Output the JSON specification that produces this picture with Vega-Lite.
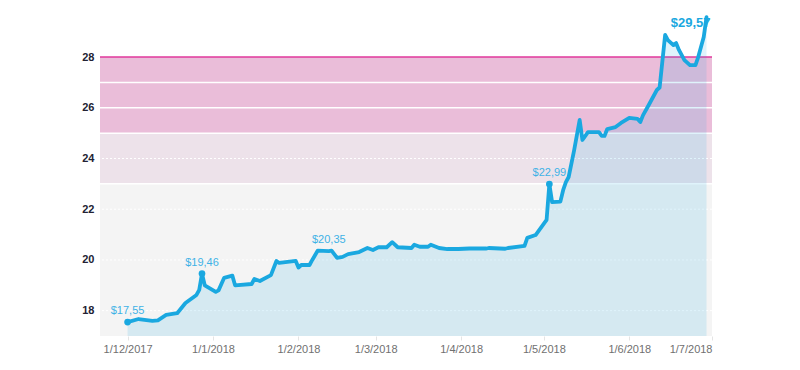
{
  "$schema": "https://vega.github.io/schema/vega-lite/v6.json",
  "width": 612,
  "height": 336,
  "autosize": {"type": "none"},
  "padding": {"left": 100, "top": 0, "right": 88, "bottom": 34},
  "background": "white",
  "config": {"view": {"stroke": null}, "font": "Liberation Sans"},
  "datasets": {
    "series": [
      {"date": "2017-12-01", "value": 17.55},
      {"date": "2017-12-05", "value": 17.67},
      {"date": "2017-12-10", "value": 17.6},
      {"date": "2017-12-12", "value": 17.62},
      {"date": "2017-12-15", "value": 17.83},
      {"date": "2017-12-19", "value": 17.9},
      {"date": "2017-12-22", "value": 18.3},
      {"date": "2017-12-26", "value": 18.62},
      {"date": "2017-12-27", "value": 18.82},
      {"date": "2017-12-28", "value": 19.46},
      {"date": "2017-12-29", "value": 19.0},
      {"date": "2018-01-02", "value": 18.74},
      {"date": "2018-01-03", "value": 18.8},
      {"date": "2018-01-05", "value": 19.29},
      {"date": "2018-01-08", "value": 19.38},
      {"date": "2018-01-09", "value": 19.0},
      {"date": "2018-01-15", "value": 19.05},
      {"date": "2018-01-16", "value": 19.25},
      {"date": "2018-01-18", "value": 19.17},
      {"date": "2018-01-22", "value": 19.4},
      {"date": "2018-01-24", "value": 19.96},
      {"date": "2018-01-25", "value": 19.88},
      {"date": "2018-01-31", "value": 19.96},
      {"date": "2018-02-01", "value": 19.7},
      {"date": "2018-02-02", "value": 19.8},
      {"date": "2018-02-05", "value": 19.8},
      {"date": "2018-02-06", "value": 20.0},
      {"date": "2018-02-08", "value": 20.37},
      {"date": "2018-02-12", "value": 20.35},
      {"date": "2018-02-13", "value": 20.37},
      {"date": "2018-02-15", "value": 20.08},
      {"date": "2018-02-17", "value": 20.12},
      {"date": "2018-02-19", "value": 20.23},
      {"date": "2018-02-23", "value": 20.31},
      {"date": "2018-02-26", "value": 20.47},
      {"date": "2018-02-28", "value": 20.39},
      {"date": "2018-03-02", "value": 20.5},
      {"date": "2018-03-05", "value": 20.5},
      {"date": "2018-03-07", "value": 20.7},
      {"date": "2018-03-09", "value": 20.5},
      {"date": "2018-03-14", "value": 20.47},
      {"date": "2018-03-15", "value": 20.6},
      {"date": "2018-03-17", "value": 20.52},
      {"date": "2018-03-20", "value": 20.52},
      {"date": "2018-03-21", "value": 20.6},
      {"date": "2018-03-24", "value": 20.47},
      {"date": "2018-03-27", "value": 20.43},
      {"date": "2018-03-31", "value": 20.43},
      {"date": "2018-04-04", "value": 20.45},
      {"date": "2018-04-10", "value": 20.45},
      {"date": "2018-04-11", "value": 20.47},
      {"date": "2018-04-17", "value": 20.44},
      {"date": "2018-04-18", "value": 20.47},
      {"date": "2018-04-24", "value": 20.55},
      {"date": "2018-04-25", "value": 20.87},
      {"date": "2018-04-28", "value": 20.98},
      {"date": "2018-05-02", "value": 21.58},
      {"date": "2018-05-03", "value": 22.99},
      {"date": "2018-05-04", "value": 22.28},
      {"date": "2018-05-07", "value": 22.3},
      {"date": "2018-05-08", "value": 22.75},
      {"date": "2018-05-09", "value": 23.07},
      {"date": "2018-05-10", "value": 23.27},
      {"date": "2018-05-12", "value": 24.33},
      {"date": "2018-05-14", "value": 25.52},
      {"date": "2018-05-15", "value": 24.73},
      {"date": "2018-05-17", "value": 25.04},
      {"date": "2018-05-21", "value": 25.04},
      {"date": "2018-05-22", "value": 24.89},
      {"date": "2018-05-23", "value": 24.89},
      {"date": "2018-05-24", "value": 25.16},
      {"date": "2018-05-27", "value": 25.24},
      {"date": "2018-05-29", "value": 25.4},
      {"date": "2018-06-01", "value": 25.6},
      {"date": "2018-06-04", "value": 25.56},
      {"date": "2018-06-05", "value": 25.44},
      {"date": "2018-06-06", "value": 25.71},
      {"date": "2018-06-08", "value": 26.1},
      {"date": "2018-06-11", "value": 26.7},
      {"date": "2018-06-12", "value": 26.8},
      {"date": "2018-06-14", "value": 28.87},
      {"date": "2018-06-15", "value": 28.67},
      {"date": "2018-06-17", "value": 28.47},
      {"date": "2018-06-18", "value": 28.55},
      {"date": "2018-06-19", "value": 28.28},
      {"date": "2018-06-21", "value": 27.88},
      {"date": "2018-06-23", "value": 27.68},
      {"date": "2018-06-25", "value": 27.68},
      {"date": "2018-06-26", "value": 28.0},
      {"date": "2018-06-28", "value": 28.79},
      {"date": "2018-06-29", "value": 29.57}
    ],
    "bands": [
      {"lo": 17, "hi": 23, "color": "#f4f4f4"},
      {"lo": 23, "hi": 25, "color": "#ede2ea"},
      {"lo": 25, "hi": 28, "color": "#eabdd9"}
    ],
    "solidGrid": [{"v": 23}, {"v": 25}, {"v": 26}, {"v": 27}],
    "dotGrid": [{"v": 18}, {"v": 20}, {"v": 22}, {"v": 24}],
    "labels": [
      {"date": "2017-12-01", "value": 17.55, "text": "$17,55", "dot": 1},
      {"date": "2017-12-28", "value": 19.46, "text": "$19,46", "dot": 1},
      {"date": "2018-02-12", "value": 20.35, "text": "$20,35", "dot": 0},
      {"date": "2018-05-03", "value": 22.99, "text": "$22,99", "dot": 1}
    ],
    "last": [
      {"date": "2018-06-29", "value": 29.57, "text": "$29,57"}
    ]
  },
  "encoding": {
    "y": {
      "field": "value",
      "type": "quantitative",
      "scale": {"domain": [17, 30.25], "zero": false, "nice": false},
      "axis": {
        "values": [18, 20, 22, 24, 26, 28],
        "title": null,
        "grid": false,
        "domain": false,
        "ticks": false,
        "labelPadding": 6,
        "labelFont": "Liberation Sans",
        "labelFontSize": 11,
        "labelFontWeight": "bold",
        "labelColor": "#222233"
      }
    }
  },
  "layer": [
    {
      "data": {"name": "bands"},
      "mark": {"type": "rect"},
      "encoding": {
        "y": {"field": "lo", "type": "quantitative"},
        "y2": {"field": "hi"},
        "color": {"field": "color", "type": "nominal", "scale": null}
      }
    },
    {
      "data": {"name": "dotGrid"},
      "mark": {"type": "rule", "color": "#ffffff", "strokeWidth": 1, "strokeDash": [2, 2]},
      "encoding": {"y": {"field": "v", "type": "quantitative"}}
    },
    {
      "data": {"name": "solidGrid"},
      "mark": {"type": "rule", "color": "#ffffff", "strokeWidth": 1.5},
      "encoding": {"y": {"field": "v", "type": "quantitative"}}
    },
    {
      "data": {"values": [{"v": 28}]},
      "mark": {"type": "rule", "color": "#e0399b", "strokeWidth": 1.5},
      "encoding": {"y": {"field": "v", "type": "quantitative"}}
    },
    {
      "data": {"name": "series"},
      "mark": {"type": "area", "color": "#1aa8e0", "opacity": 0.14},
      "encoding": {
        "x": {
          "field": "date",
          "type": "temporal",
          "scale": {
            "type": "utc",
            "domain": [
              {"year": 2017, "month": 11, "date": 21, "utc": true},
              {"year": 2018, "month": 7, "date": 1, "utc": true}
            ],
            "nice": false
          },
          "axis": {
            "title": null,
            "grid": false,
            "domain": false,
            "values": [
              {"year": 2017, "month": 12, "date": 1, "utc": true},
              {"year": 2018, "month": 1, "date": 1, "utc": true},
              {"year": 2018, "month": 2, "date": 1, "utc": true},
              {"year": 2018, "month": 3, "date": 1, "utc": true},
              {"year": 2018, "month": 4, "date": 1, "utc": true},
              {"year": 2018, "month": 5, "date": 1, "utc": true},
              {"year": 2018, "month": 6, "date": 1, "utc": true},
              {"year": 2018, "month": 7, "date": 1, "utc": true}
            ],
            "labelExpr": "utcFormat(datum.value, '%-d/%-m/%Y')",
            "labelFlush": true,
            "labelFont": "Liberation Sans",
            "labelFontSize": 11,
            "labelColor": "#707070",
            "tickColor": "#e4e4e4",
            "tickSize": 4,
            "labelPadding": 3
          }
        },
        "y": {"field": "value", "type": "quantitative"},
        "y2": {"datum": 17}
      }
    },
    {
      "data": {"name": "series"},
      "mark": {"type": "line", "color": "#1aa8e0", "strokeWidth": 3.8, "strokeJoin": "round", "strokeCap": "round"},
      "encoding": {
        "x": {"field": "date", "type": "temporal"},
        "y": {"field": "value", "type": "quantitative"}
      }
    },
    {
      "data": {"name": "labels"},
      "transform": [{"filter": "datum.dot == 1"}],
      "mark": {"type": "point", "filled": true, "color": "#1aa8e0", "size": 45, "opacity": 1},
      "encoding": {
        "x": {"field": "date", "type": "temporal"},
        "y": {"field": "value", "type": "quantitative"}
      }
    },
    {
      "data": {"name": "labels"},
      "mark": {"type": "text", "color": "#3fb2e6", "fontSize": 11, "font": "Liberation Sans", "baseline": "bottom", "align": "center", "dy": -6},
      "encoding": {
        "x": {"field": "date", "type": "temporal"},
        "y": {"field": "value", "type": "quantitative"},
        "text": {"field": "text"}
      }
    },
    {
      "data": {"name": "last"},
      "mark": {"type": "text", "color": "#1aa8e0", "fontSize": 13, "fontWeight": "bold", "font": "Liberation Sans", "baseline": "bottom", "align": "right", "dx": 4, "dy": 13},
      "encoding": {
        "x": {"field": "date", "type": "temporal"},
        "y": {"field": "value", "type": "quantitative"},
        "text": {"field": "text"}
      }
    }
  ]
}
